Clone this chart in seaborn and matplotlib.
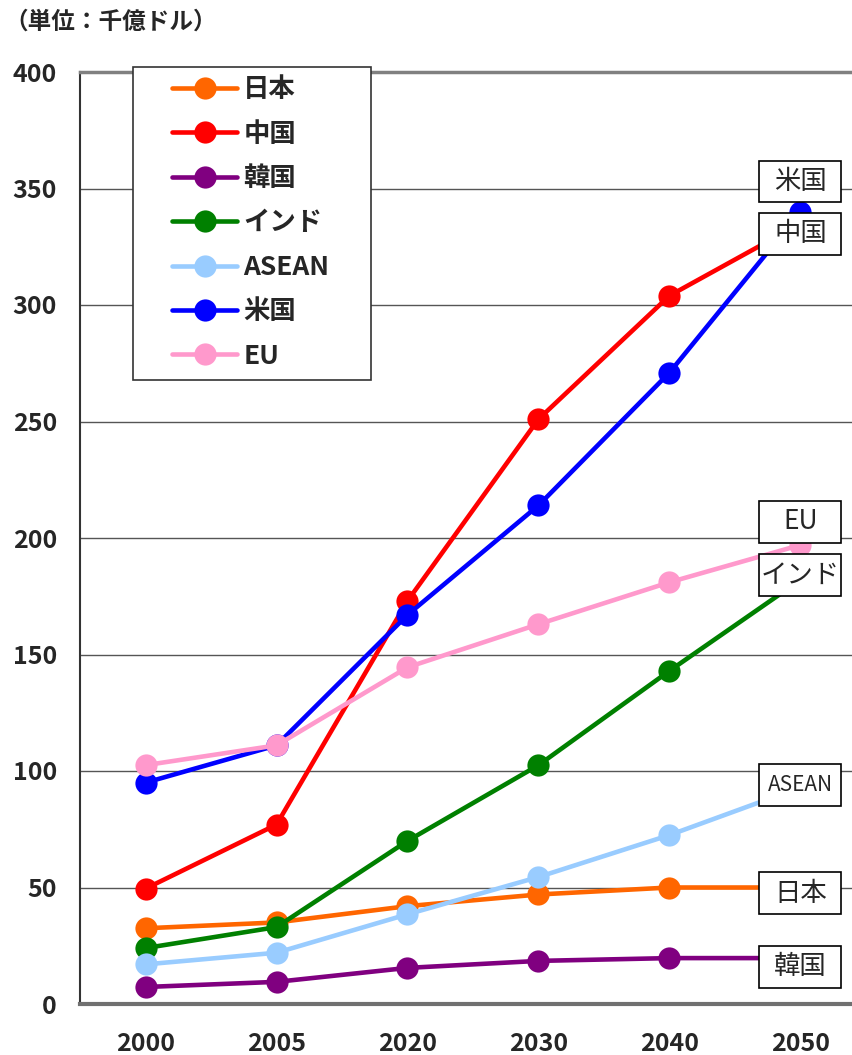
"""GDP projection by region, 2000-2050 (unit: 100 billion USD)"""
import matplotlib
matplotlib.use('Agg')
import matplotlib.pyplot as plt
from matplotlib.patches import Rectangle
import numpy as np
import seaborn as sns

years = ['2000', '2005', '2020', '2030', '2040', '2050']
countries = ['日本', '中国', '韓国', 'インド', 'ASEAN', '米国', 'EU']
japan = [32.5, 35, 42, 47, 50, 50]
china = [49.5, 77, 173, 251, 304, 335]
korea = [7.3, 9.5, 15.5, 18.5, 19.7, 19.7]
india = [24, 33, 70, 102.5, 143, 182]
asean = [17, 22, 38.5, 54.5, 72.5, 93]
usa = [95, 111, 167, 214, 271, 340]
eu = [102.5, 111, 144.5, 163, 181, 197]
series = [japan, china, korea, india, asean, usa, eu]
colors = ['#FF6600', '#FF0000', '#800080', '#008000', '#99CCFF', '#0000FF', '#FF99CC']

# boxed labels on the right side (label, y position)
end_labels = ['米国', '中国', 'EU', 'インド', 'ASEAN', '日本', '韓国']
end_label_y = [353, 330.5, 207, 184, 94, 47.5, 16]

sns.set_style('white')
plt.rcParams['font.family'] = ['Noto Sans CJK JP', 'DejaVu Sans']

fig = plt.figure(figsize=(8.52, 10.55), dpi=100)
ax = fig.add_axes([80 / 852, 51 / 1055, 786 / 852, 932 / 1055])

x = np.arange(len(years))
for name, vals, c in zip(countries, series, colors):
    sns.lineplot(x=x, y=vals, color=c, marker='o', markersize=16, markeredgewidth=0,
                 linewidth=3.3, label=name, ax=ax, legend=False)

ax.set_xlim(-0.5, 5.5)
ax.set_ylim(0, 400)
ax.set_yticks(range(0, 401, 50))
ax.set_xticks(x)
ax.set_xticklabels(years)
ax.set_xticks(np.arange(-0.5, 5.6, 1), minor=True)
ax.tick_params(axis='x', which='major', length=0, pad=20)
ax.tick_params(axis='x', which='minor', direction='in', length=8, width=1, color='#444444')
ax.tick_params(axis='y', direction='in', length=6, width=1, color='#444444', pad=16.5)
for lab in ax.get_xticklabels() + ax.get_yticklabels():
    lab.set_fontsize(18)
    lab.set_fontweight('bold')
ax.yaxis.grid(True, color='#555555', linewidth=1)
ax.set_axisbelow(True)
ax.spines['top'].set_color('#808080')
ax.spines['top'].set_linewidth(2.5)
ax.spines['bottom'].set_color('#707070')
ax.spines['bottom'].set_linewidth(3)
ax.spines['left'].set_color('#333333')
ax.spines['left'].set_linewidth(1.5)
ax.spines['right'].set_visible(False)
ax.set_xlabel('')
ax.set_ylabel('')

# boxed end labels
for lab, ly in zip(end_labels, end_label_y):
    ax.add_patch(Rectangle((4.68, ly - 9), 0.63, 18, facecolor='white',
                           edgecolor='black', linewidth=1.2, zorder=5))
    ax.text(5.0, ly, lab, ha='center', va='center', fontsize=15 if lab == 'ASEAN' else 19,
            zorder=6)

# legend with its own frame
fig.patches.append(Rectangle((133 / 852, 1 - 380 / 1055), 238 / 852, 313 / 1055,
                             transform=fig.transFigure, facecolor='white',
                             edgecolor='#333333', linewidth=1.2, zorder=3))
handles, labels = ax.get_legend_handles_labels()
leg = fig.legend(handles, labels, loc='upper left', bbox_to_anchor=(159 / 852, 1 - 63 / 1055),
                 frameon=False, borderpad=0, handlelength=2.46, handletextpad=0.23,
                 labelspacing=0.66, prop={'size': 19, 'weight': 'bold'})
leg.set_zorder(4)

fig.text(4 / 852, 1 - 22 / 1055, '（単位：千億ドル）', fontsize=17, fontweight='bold',
         va='center', ha='left')

fig.savefig('out.png', dpi=100)
